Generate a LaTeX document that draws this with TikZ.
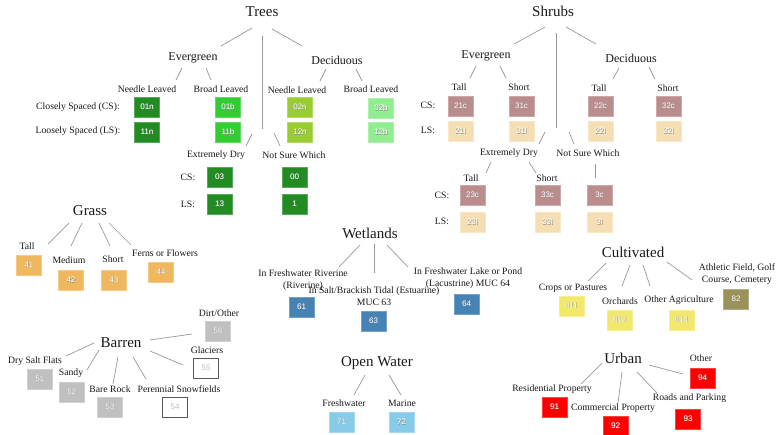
\documentclass[tikz,border=0pt]{standalone}
\usepackage{fontspec}
\setmainfont{Liberation Serif}
\newfontfamily\boxfont{Liberation Sans}
\usetikzlibrary{calc}
\definecolor{cEN}{HTML}{228B22}
\definecolor{cEB}{HTML}{32CD32}
\definecolor{cDN}{HTML}{9ACD32}
\definecolor{cDB}{HTML}{90EE90}
\definecolor{cSC}{HTML}{BA8C8C}
\definecolor{cSL}{HTML}{F5DEB3}
\definecolor{cGR}{HTML}{F0B85E}
\definecolor{cBA}{HTML}{C0C0C0}
\definecolor{cWE}{HTML}{4682B4}
\definecolor{cOW}{HTML}{87CBE8}
\definecolor{cCU}{HTML}{F2E86E}
\definecolor{cAT}{HTML}{99925A}
\definecolor{cUR}{HTML}{FF0000}
\definecolor{cLN}{HTML}{999999}
\newcommand\mylink[4]{\draw[link] ($(#1.center)+(#2)$) -- ($(#3.center)+(#4)$);}
\newcommand\shd[1]{\makebox[0pt][l]{\kern0.45pt\raisebox{-0.45pt}{\textcolor{black!45}{#1}}}#1}
\begin{document}
\begin{tikzpicture}[x=1pt,y=-1pt,
  title/.style={font=\fontsize{15}{18}\selectfont, inner sep=0pt, text=black!90},
  sub/.style={font=\fontsize{12}{14}\selectfont, inner sep=0pt, text=black!90},
  lbl/.style={font=\fontsize{9.7}{11.5}\selectfont, inner sep=0pt, text=black!90, align=center},
  mucbox/.style={fill=#1, draw=#1!75!white, line width=0.6pt, minimum width=25pt, minimum height=20pt, inner sep=0pt, text=white, font=\boxfont\fontsize{8}{9}\selectfont},
  whitebox/.style={fill=white, draw=black!65, line width=0.6pt, minimum width=25pt, minimum height=20pt, inner sep=0pt, text=black!25, font=\boxfont\fontsize{8}{9}\selectfont},
  link/.style={draw=cLN, line width=0.7pt}]
\useasboundingbox (0,0) rectangle (776,434);
\fill[white] (0,0) rectangle (776,434);

% ---------------- Trees ----------------
\node[title] (trees) at (262,12) {Trees};
\node[sub] (tevg) at (193,58) {Evergreen};
\node[sub] (tdec) at (337,60) {Deciduous};
\node[lbl] (tnl1) at (147,89) {Needle Leaved};
\node[lbl] (tbl1) at (221,89) {Broad Leaved};
\node[lbl] (tnl2) at (297,90) {Needle Leaved};
\node[lbl] (tbl2) at (371,89) {Broad Leaved};
\node[lbl] (tcs) at (78,107) {Closely Spaced (CS):};
\node[lbl] (tls) at (78,131) {Loosely Spaced (LS):};
\node[mucbox=cEN] (b01n) at (147,107) {\shd{01n}};
\node[mucbox=cEN] (b11n) at (147,132) {\shd{11n}};
\node[mucbox=cEB] (b01b) at (228,107) {\shd{01b}};
\node[mucbox=cEB] (b11b) at (228,132) {\shd{11b}};
\node[mucbox=cDN] (b02n) at (300,107) {\shd{02n}};
\node[mucbox=cDN] (b12n) at (300,132) {\shd{12n}};
\node[mucbox=cDB] (b02b) at (381,108) {\shd{02b}};
\node[mucbox=cDB] (b12b) at (381,132) {\shd{12b}};
\coordinate (tmid) at (262,131);
\node[lbl] (ted) at (216,155) {Extremely Dry};
\node[lbl] (tnsw) at (294,155) {Not Sure Which};
\node[lbl] (tcs2) at (188,177) {CS:};
\node[lbl] (tls2) at (188,204) {LS:};
\node[mucbox=cEN] (b03) at (219.5,177) {\shd{03}};
\node[mucbox=cEN] (b00) at (294.5,177) {\shd{00}};
\node[mucbox=cEN] (b13) at (219.5,204) {\shd{13}};
\node[mucbox=cEN] (b1) at (294.5,204) {\shd{1}};
\mylink{trees}{-10,16}{tevg}{28,-12}
\mylink{trees}{0,24}{tmid}{0,-2}
\mylink{trees}{10,17}{tdec}{-35,-14}
\mylink{tevg}{-11,10}{tnl1}{29,-9}
\mylink{tevg}{13,10}{tbl1}{-10,-9}
\mylink{tdec}{-11,9}{tnl2}{23,-9}
\mylink{tdec}{19,9}{tbl2}{-9,-8}
\mylink{tmid}{-10,3}{ted}{30,-9}
\mylink{tmid}{12,2}{tnsw}{-14,-9}

% ---------------- Shrubs ----------------
\node[title] (shrubs) at (553,11) {Shrubs};
\node[sub] (sevg) at (486,56) {Evergreen};
\node[sub] (sdec) at (631,58) {Deciduous};
\node[lbl] (stall1) at (459,87) {Tall};
\node[lbl] (sshort1) at (519,87) {Short};
\node[lbl] (stall2) at (599,88) {Tall};
\node[lbl] (sshort2) at (668,88) {Short};
\node[lbl] (scs) at (428,105) {CS:};
\node[lbl] (sls) at (428,130) {LS:};
\node[mucbox=cSC] (b21c) at (460.5,106) {\shd{21c}};
\node[mucbox=cSL] (b21l) at (460.5,131) {\shd{21l}};
\node[mucbox=cSC] (b31c) at (521.5,106) {\shd{31c}};
\node[mucbox=cSL] (b31l) at (521.5,131) {\shd{31l}};
\node[mucbox=cSC] (b22c) at (600.5,106) {\shd{22c}};
\node[mucbox=cSL] (b22l) at (600.5,131) {\shd{22l}};
\node[mucbox=cSC] (b32c) at (668.5,106) {\shd{32c}};
\node[mucbox=cSL] (b32l) at (668.5,131) {\shd{32l}};
\coordinate (smid) at (556,130);
\node[lbl] (sed) at (509,153) {Extremely Dry};
\node[lbl] (snsw) at (588,153) {Not Sure Which};
\node[lbl] (stall3) at (471,178) {Tall};
\node[lbl] (sshort3) at (547,178) {Short};
\node[lbl] (scs2) at (442,195) {CS:};
\node[lbl] (sls2) at (442,221) {LS:};
\node[mucbox=cSC] (b23c) at (472.5,195) {\shd{23c}};
\node[mucbox=cSL] (b23l) at (472.5,222) {\shd{23l}};
\node[mucbox=cSC] (b33c) at (547.5,195) {\shd{33c}};
\node[mucbox=cSL] (b33l) at (547.5,222) {\shd{33l}};
\node[mucbox=cSC] (b3c) at (599.5,195) {\shd{3c}};
\node[mucbox=cSL] (b3l) at (599.5,222) {\shd{3l}};
\mylink{shrubs}{-8,16}{sevg}{28,-12}
\mylink{shrubs}{3,22}{smid}{0,-2}
\mylink{shrubs}{13,16}{sdec}{-35,-14}
\mylink{sevg}{-10,10}{stall1}{11,-9}
\mylink{sevg}{14,10}{sshort1}{-13,-9}
\mylink{sdec}{-12,10}{stall2}{14,-9}
\mylink{sdec}{18,9}{sshort2}{-13,-9}
\mylink{smid}{-11,2}{sed}{30,-9}
\mylink{smid}{13,2}{snsw}{-14,-9}
\mylink{sed}{-18,9}{stall3}{15,-5}
\mylink{sed}{20,9}{sshort3}{-11,-5}
\mylink{snsw}{7,11}{b3c}{-4.5,-17}

% ---------------- Grass ----------------
\node[title] (grass) at (90,211) {Grass};
\node[lbl] (gtall) at (27,246) {Tall};
\node[lbl] (gmed) at (69,260) {Medium};
\node[lbl] (gshort) at (113,259) {Short};
\node[lbl] (gferns) at (165,253) {Ferns or Flowers};
\node[mucbox=cGR] (b41) at (29,265) {\shd{41}};
\node[mucbox=cGR] (b42) at (71,280) {\shd{42}};
\node[mucbox=cGR] (b43) at (114,280) {\shd{43}};
\node[mucbox=cGR] (b44) at (161,272) {\shd{44}};
\mylink{grass}{-21,12}{gtall}{21,-2}
\mylink{grass}{-8,12}{gmed}{2,-14}
\mylink{grass}{9,12}{gshort}{-3,-13}
\mylink{grass}{19,12}{gferns}{-34,-8}

% ---------------- Barren ----------------
\node[title] (barren) at (121,343) {Barren};
\node[lbl] (dirt) at (219,313) {Dirt/Other};
\node[mucbox=cBA] (b56) at (218,331) {\shd{56}};
\node[lbl] (glac) at (207,350) {Glaciers};
\node[whitebox] (b55) at (206,368) {55};
\node[lbl] (dsf) at (35,361) {Dry Salt Flats};
\node[mucbox=cBA] (b51) at (40,379) {\shd{51}};
\node[lbl] (sandy) at (71,373) {Sandy};
\node[mucbox=cBA] (b52) at (72,392) {\shd{52}};
\node[lbl] (bare) at (110,389) {Bare Rock};
\node[mucbox=cBA] (b53) at (110,407) {\shd{53}};
\node[lbl] (pere) at (179,389) {Perennial Snowfields};
\node[whitebox] (b54) at (175,407) {54};
\mylink{barren}{29,-3}{b56}{-26,3}
\mylink{barren}{29,8}{b55}{-23,-3}
\mylink{barren}{-27,0}{dsf}{31,-5}
\mylink{barren}{-22,7}{sandy}{16,-3}
\mylink{barren}{-3,14}{bare}{3,-5}
\mylink{barren}{12,14}{pere}{-33,-10}

% ---------------- Wetlands ----------------
\node[title] (wet) at (370,233) {Wetlands};
\node[lbl] (riv) at (303,280) {In Freshwater Riverine\\(Riverine)};
\node[lbl] (est) at (374,296) {In Salt/Brackish Tidal (Estuarine)\\MUC 63};
\node[lbl] (lac) at (468,278) {In Freshwater Lake or Pond\\(Lacustrine) MUC 64};
\node[mucbox=cWE] (b61) at (301.5,307) {\shd{61}};
\node[mucbox=cWE] (b63) at (373.5,321) {\shd{63}};
\node[mucbox=cWE] (b64) at (466.5,304) {\shd{64}};
\mylink{wet}{-10,12}{riv}{36,-13}
\mylink{wet}{4,11}{est}{0,-23}
\mylink{wet}{17,12}{lac}{-60,-11}

% ---------------- Open Water ----------------
\node[title] (ow) at (377,363) {Open Water};
\node[lbl] (fw) at (344,403) {Freshwater};
\node[lbl] (mar) at (402,403) {Marine};
\node[mucbox=cOW] (b71) at (341.5,422) {\shd{71}};
\node[mucbox=cOW] (b72) at (401.5,422) {\shd{72}};
\mylink{ow}{-12,12}{fw}{10,-8}
\mylink{ow}{12,12}{mar}{-1,-8}

% ---------------- Cultivated ----------------
\node[title] (cult) at (633,252) {Cultivated};
\node[lbl] (crops) at (573,288) {Crops or Pastures};
\node[lbl] (orch) at (620,301) {Orchards};
\node[lbl] (otherag) at (679,300) {Other Agriculture};
\node[lbl] (ath) at (737,274) {Athletic Field, Golf\\Course, Cemetery};
\node[mucbox=cCU] (b811) at (571.5,306) {\shd{811}};
\node[mucbox=cCU] (b812) at (620,320) {\shd{812}};
\node[mucbox=cCU] (b814) at (681.5,320) {\shd{814}};
\node[mucbox=cAT] (b82) at (736,299) {\shd{82}};
\mylink{cult}{-27,11}{crops}{15,-7}
\mylink{cult}{-3,13}{orch}{2,-15}
\mylink{cult}{10,13}{otherag}{-29,-14}
\mylink{cult}{34,10}{ath}{-45,6}

% ---------------- Urban ----------------
\node[title] (urban) at (623,358) {Urban};
\node[lbl] (res) at (552,389) {Residential Property};
\node[lbl] (com) at (613,408) {Commercial Property};
\node[lbl] (roads) at (689.5,398) {Roads and Parking};
\node[lbl] (uoth) at (701,358) {Other};
\node[mucbox=cUR] (b91) at (554.5,407) {\shd{91}};
\node[mucbox=cUR] (b92) at (615.5,426) {\shd{92}};
\node[mucbox=cUR] (b93) at (688,419) {\shd{93}};
\node[mucbox=cUR] (b94) at (702.5,378) {\shd{94}};
\mylink{urban}{-21,5}{res}{29,-5}
\mylink{urban}{-1,14}{com}{5,-5}
\mylink{urban}{14,14}{roads}{-32.5,-5}
\mylink{urban}{26,7}{b94}{-19.5,-4}
\end{tikzpicture}
\end{document}
